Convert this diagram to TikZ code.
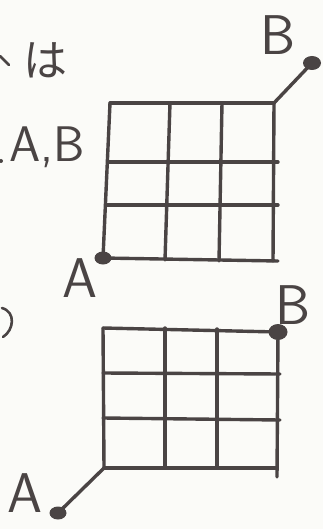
\documentclass[tikz,border=0pt]{standalone}
\usepackage{fontspec}
\newfontfamily\jpfont{Noto Sans CJK JP}
\definecolor{inkc}{HTML}{4A4444}
\definecolor{paper}{HTML}{FBFBF8}
\begin{document}
\begin{tikzpicture}[x=1pt,y=-1pt,
  ink/.style={draw=inkc, line width=3.4pt, line cap=round},
  thin ink/.style={draw=inkc, line width=2.6pt, line cap=round},
  lab/.style={text=inkc, inner sep=0pt, font=\sffamily\fontsize{56}{56}\selectfont},
  jtext/.style={text=inkc, inner sep=0pt, font=\jpfont\fontsize{44}{44}\selectfont}]
\fill[paper] (0,0) rectangle (323,529);
\useasboundingbox (0,0) rectangle (323,529);

% left partial text
\node[jtext] (ha) at (45,60) {は};
\node[text=inkc, inner sep=0pt, font=\sffamily\fontsize{50}{50}\selectfont] (ab) at (47,147) {A,B};
\draw[thin ink] (0,56) -- (9,65);
\fill[inkc] (1,161) circle (2pt);
\draw[thin ink] (2,308) .. controls (16,312) and (14,330) .. (3,337);

% ---------- top grid ----------
\coordinate (t00) at (110,103); \coordinate (t10) at (170,103);
\coordinate (t20) at (222,103); \coordinate (t30) at (274,103);
\coordinate (t01) at (109,162); \coordinate (t31) at (278,162);
\coordinate (t02) at (107,205); \coordinate (t32) at (278,205);
\coordinate (t13) at (165,260);
\coordinate (t23) at (219,261); \coordinate (t33) at (273,261);
\coordinate (t33e) at (278,261);
\coordinate (tA) at (103,258);
\coordinate (tB) at (312,63);
\draw[ink] (t00) -- (t30);
\draw[ink] (t01) -- (t31);
\draw[ink] (t02) -- (t32);
\draw[ink] (tA) -- (t33e);
\draw[ink] (t00) -- (tA);
\draw[ink] (t10) -- (t13);
\draw[ink] (t20) -- (t23);
\draw[ink] (t30) -- (t33);
\draw[ink] (t30) -- (tB);
\fill[inkc] (tA) ellipse [x radius=8.5, y radius=6.5];
\fill[inkc] (tB) ellipse [x radius=9, y radius=7];
\node[lab] (tAl) at (80,278) {A};
\node[lab] (tBl) at (278,35) {B};

% ---------- bottom grid ----------
\coordinate (b00) at (103,328); \coordinate (b10) at (165,328);
\coordinate (b20) at (217,329);
\coordinate (b01) at (103,373); \coordinate (b31) at (280,374);
\coordinate (b02) at (103,418); \coordinate (b32) at (280,420);
\coordinate (b03) at (104,468); \coordinate (b13) at (165,468);
\coordinate (b23) at (217,468); \coordinate (b33) at (277,468);
\coordinate (b34) at (277,477);
\coordinate (bB) at (278,332);
\coordinate (bA) at (58,513);
\draw[ink] (b00) -- (bB);
\draw[ink] (b01) -- (b31);
\draw[ink] (b02) -- (b32);
\draw[ink] (b03) -- (b33);
\draw[ink] (b00) -- (b03);
\draw[ink] (b10) -- (b13);
\draw[ink] (b20) -- (b23);
\draw[ink] (bB) -- (b34);
\draw[ink] (b03) -- (bA);
\fill[inkc] (bB) ellipse [x radius=9.5, y radius=8];
\fill[inkc] (bA) ellipse [x radius=8.5, y radius=6.5];
\node[lab] (bAl) at (25,493) {A};
\node[lab] (bBl) at (293,305) {B};
\end{tikzpicture}
\end{document}
